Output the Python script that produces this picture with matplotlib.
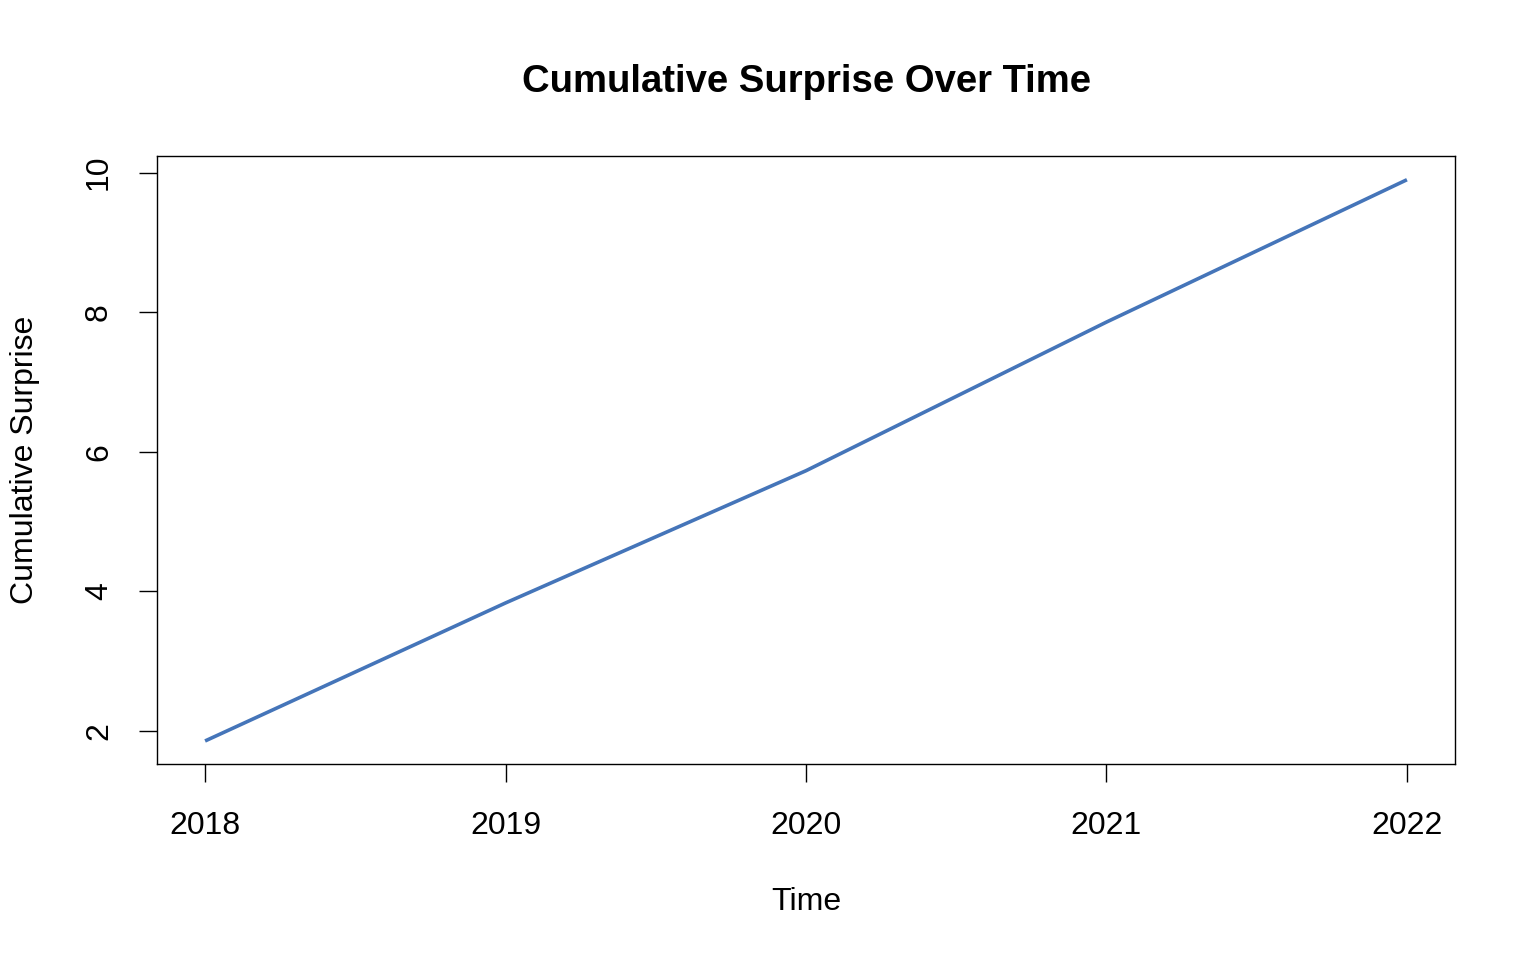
import matplotlib
matplotlib.use('Agg')
import matplotlib.pyplot as plt

plt.rcParams['font.family'] = ['Liberation Sans', 'DejaVu Sans']

# data
years = [2018, 2019, 2020, 2021, 2022]
surprise = [1.857, 3.835, 5.73, 7.86, 9.90]
yticks = [2, 4, 6, 8, 10]

fig = plt.figure(figsize=(15.36, 9.6), dpi=100)
ax = fig.add_axes([157/1536, 196/960, 1298/1536, 608/960])

ax.plot(years, surprise, color='#4575B9', lw=2.6, solid_capstyle='butt')

ax.set_xlim(2017.84, 2022.16)
ax.set_ylim(1.527, 10.24)
ax.set_xticks(years)
ax.set_xticklabels([str(y) for y in years])
ax.set_yticks(yticks)
ax.set_yticklabels([str(v) for v in yticks], rotation=90, va='center')

ax.tick_params(axis='both', direction='out', length=13, width=1, labelsize=23, colors='black')
ax.tick_params(axis='x', pad=21)
ax.tick_params(axis='y', pad=18)
for s in ax.spines.values():
    s.set_linewidth(1.0)
    s.set_color('black')

fig.text(807/1536, 1 - 82/960, 'Cumulative Surprise Over Time', ha='center', va='center',
         fontsize=27.5, fontweight='bold')
fig.text(806/1536, 1 - 902/960, 'Time', ha='center', va='center', fontsize=23)
fig.text(25/1536, 1 - 460/960, 'Cumulative Surprise', ha='center', va='center',
         fontsize=23, rotation=90)

fig.savefig('out.png', dpi=100)
